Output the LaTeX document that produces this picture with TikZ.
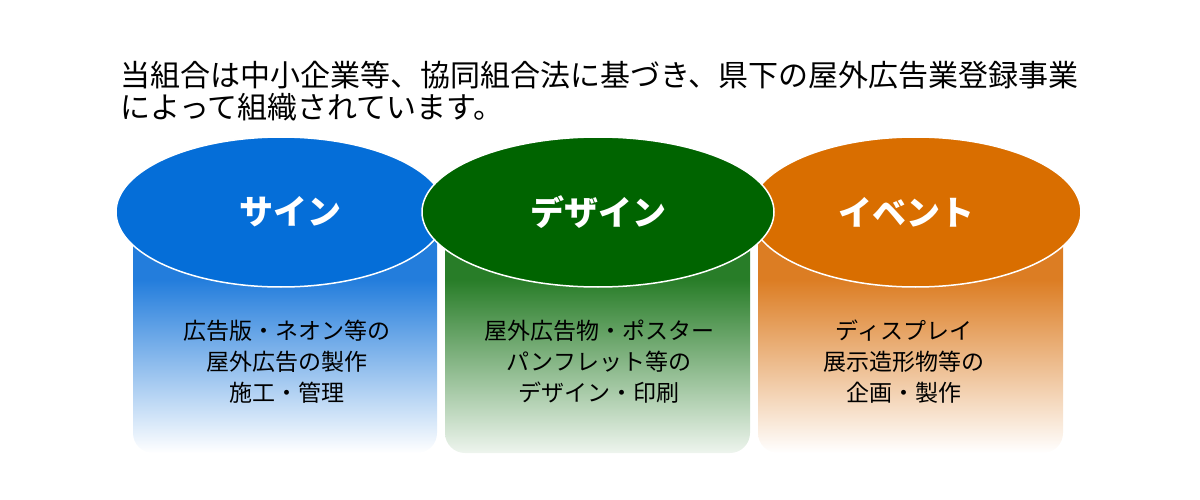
\documentclass[tikz,border=0pt]{standalone}
\usepackage{fontspec}
\setmainfont{Noto Sans CJK JP}
\usetikzlibrary{shapes.geometric}
\definecolor{blueE}{RGB}{5,110,216}
\definecolor{greenE}{RGB}{0,100,0}
\definecolor{orangeE}{RGB}{217,110,0}
\definecolor{blueB}{RGB}{35,125,220}
\definecolor{greenB}{RGB}{40,125,40}
\definecolor{orangeB}{RGB}{220,125,35}
\pgfdeclareverticalshading{blueshade}{100bp}{color(0bp)=(white); color(25bp)=(white); color(61bp)=(blueB); color(75bp)=(blueB); color(100bp)=(blueB)}
\pgfdeclareverticalshading{greenshade}{100bp}{color(0bp)=(white); color(25bp)=(white!92!greenB); color(61bp)=(greenB); color(75bp)=(greenB); color(100bp)=(greenB)}
\pgfdeclareverticalshading{orangeshade}{100bp}{color(0bp)=(white); color(25bp)=(white); color(61bp)=(orangeB); color(75bp)=(orangeB); color(100bp)=(orangeB)}
\tikzset{
  bodybox/.style={rectangle, rounded corners=20pt, minimum width=305pt, minimum height=241pt, inner sep=0pt},
  topoval/.style={ellipse, draw=white, line width=1.5pt, minimum height=150pt, inner sep=0pt},
  captext/.style={text=white, font=\fontsize{34}{36}\selectfont\bfseries},
  bodytext/.style={align=center, font=\fontsize{23}{31}\selectfont, text=black},
  titletext/.style={anchor=west, inner sep=0pt, font=\fontsize{30}{32}\selectfont, text=black}
}
\begin{document}
\begin{tikzpicture}[x=1pt,y=-1pt]
\useasboundingbox (0,0) rectangle (1200,500);
\node[titletext] (t1) at (120,75) {当組合は中小企業等、協同組合法に基づき、県下の屋外広告業登録事業};
\node[titletext] (t2) at (120,107) {によって組織されています。};
% blue
\node[bodybox, shading=blueshade, minimum width=304pt] (bb) at (285,332.5) {};
\node[topoval, fill=blueE, minimum width=330pt] (be) at (281,212) {};
% orange
\node[bodybox, shading=orangeshade] (ob) at (910.5,332.5) {};
\node[topoval, fill=orangeE, minimum width=331pt] (oe) at (915.5,212) {};
% green
\node[bodybox, shading=greenshade] (gb) at (597.5,332.5) {};
\node[topoval, fill=greenE, minimum width=352pt] (ge) at (598,212) {};
% labels
\node[captext] (bl) at (290,212) {サイン};
\node[captext] (gl) at (598,212) {デザイン};
\node[captext] (ol) at (906,212) {イベント};
\node[bodytext] (bt) at (287,362) {広告版・ネオン等の\\屋外広告の製作\\施工・管理};
\node[bodytext] (gt) at (599,362) {屋外広告物・ポスター\\パンフレット等の\\デザイン・印刷};
\node[bodytext] (ot) at (904,362) {ディスプレイ\\展示造形物等の\\企画・製作};
\end{tikzpicture}
\end{document}
